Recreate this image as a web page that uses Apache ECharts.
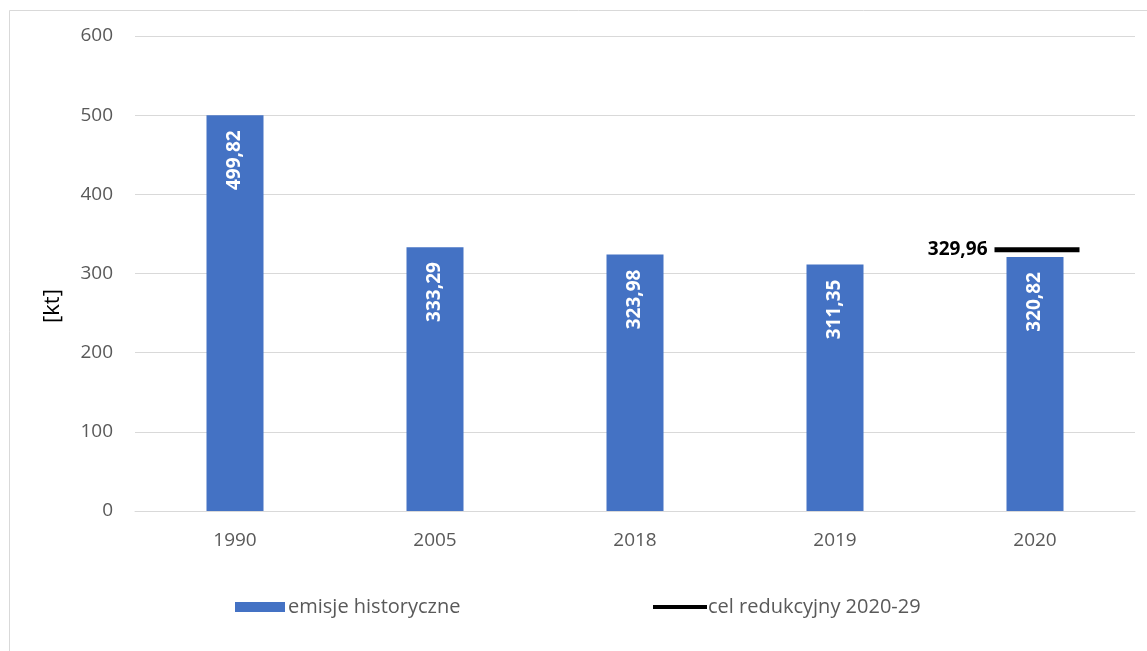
<!DOCTYPE html>
<html>
<head>
<meta charset="utf-8">
<script src="https://cdn.jsdelivr.net/npm/echarts@6/dist/echarts.min.js"></script>
<style>
html,body{margin:0;padding:0;background:#fff;}
#c{width:1147px;height:651px;}
</style>
</head>
<body>
<div id="c"></div>
<script>
var categories = ['1990', '2005', '2018', '2019', '2020'];
var historical = [499.82, 333.29, 323.98, 311.35, 320.82];
var target = [null, null, null, null, 329.96];
var yTicks = [0, 100, 200, 300, 400, 500, 600];

function fmt(v) { return v.toFixed(2).replace('.', ','); }

var FONT = '"Open Sans", "Noto Sans", sans-serif';
var chart = echarts.init(document.getElementById('c'));
chart.setOption({
  animation: false,
  backgroundColor: '#fff',
  textStyle: { fontFamily: FONT },
  graphic: [{
    type: 'rect',
    shape: { x: 9.5, y: 10.5, width: 1160, height: 660 },
    style: { fill: 'none', stroke: '#d9d9d9', lineWidth: 1 },
    silent: true
  }, {
    type: 'text',
    x: 53, y: 306,
    rotation: Math.PI / 2,
    style: {
      text: '[kt]', fill: '#000', fontSize: 22, fontFamily: FONT,
      align: 'center', verticalAlign: 'middle'
    },
    silent: true
  }],
  grid: { left: 135, right: 12, top: 36, bottom: 140, containLabel: false },
  legend: [{
    data: ['emisje historyczne'],
    left: 230, top: 592,
    icon: 'rect', itemWidth: 50, itemHeight: 10,
    textStyle: { color: '#595959', fontSize: 20, fontFamily: FONT, padding: [0, 0, 0, -2] }
  }, {
    data: ['cel redukcyjny 2020-29'],
    left: 648, top: 592,
    icon: 'rect', itemWidth: 54, itemHeight: 4,
    itemStyle: { color: '#000', opacity: 1 },
    textStyle: { color: '#595959', fontSize: 20, fontFamily: FONT, padding: [0, 0, 0, -4] }
  }],
  xAxis: {
    type: 'category',
    data: categories,
    axisLine: { lineStyle: { color: '#d9d9d9' } },
    axisTick: { show: false },
    axisLabel: { color: '#595959', fontSize: 19, margin: 20, fontFamily: FONT }
  },
  yAxis: {
    type: 'value',
    min: yTicks[0], max: yTicks[yTicks.length - 1], interval: 100,
    axisLine: { show: false },
    axisTick: { show: false },
    axisLabel: { color: '#595959', fontSize: 19, margin: 22, fontFamily: FONT },
    splitLine: { lineStyle: { color: '#d9d9d9', width: 1 } }
  },
  series: [{
    name: 'emisje historyczne',
    type: 'bar',
    data: historical,
    barWidth: 57,
    itemStyle: { color: '#4472c4' },
    label: {
      show: true,
      position: 'insideTop',
      rotate: 90,
      align: 'right',
      verticalAlign: 'middle',
      distance: 15,
      color: '#fff',
      fontWeight: 'bold',
      fontSize: 19,
      fontFamily: FONT,
      formatter: function (p) { return fmt(p.value); }
    }
  }, {
    name: 'cel redukcyjny 2020-29',
    type: 'scatter',
    data: target,
    symbol: 'rect',
    symbolSize: [85, 5],
    symbolOffset: [2, 0],
    itemStyle: { color: '#000', opacity: 1 },
    label: {
      show: true,
      position: 'left',
      distance: 7,
      color: '#000',
      fontWeight: 'bold',
      fontSize: 19,
      fontFamily: FONT,
      formatter: function (p) { return p.value == null ? '' : fmt(p.value); }
    }
  }]
});
</script>
</body>
</html>
